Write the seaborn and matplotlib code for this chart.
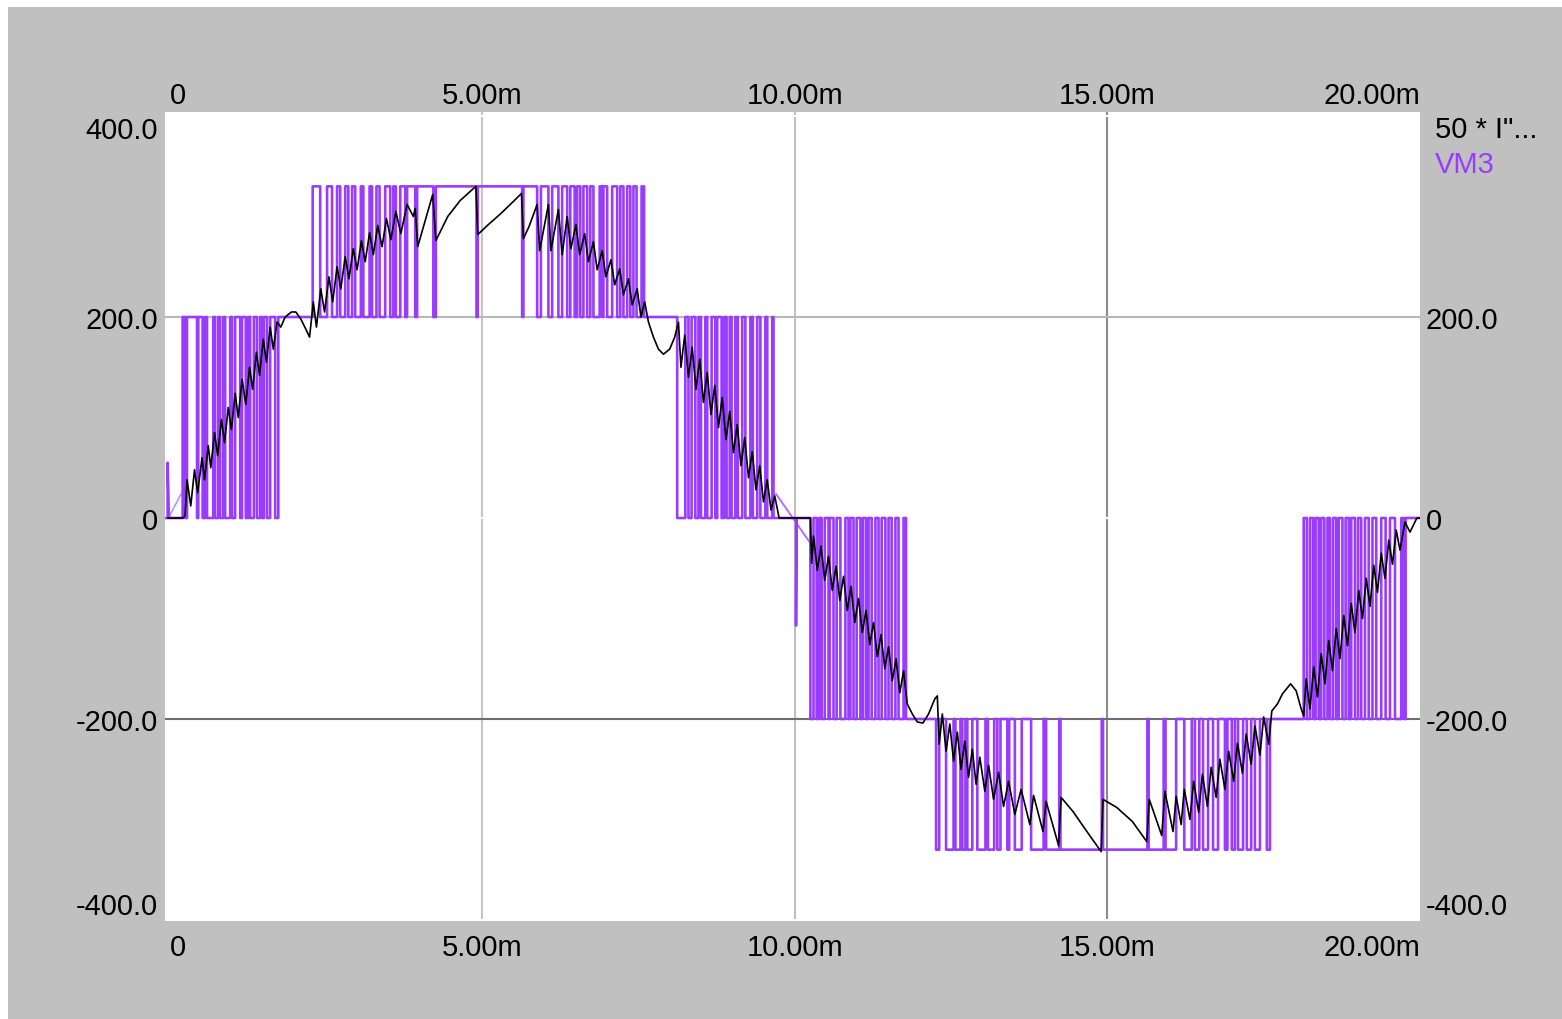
import matplotlib
matplotlib.use('Agg')
import matplotlib.pyplot as plt
import seaborn as sns
from matplotlib.patches import Rectangle

# axis texts (time in ms)
x_ticks = [0, 5, 10, 15, 20]
x_labels = ['0', '5.00m', '10.00m', '15.00m', '20.00m']
y_ticks = [-400, -200, 0, 200, 400]
y_labels = ['-400.0', '-200.0', '0', '200.0', '400.0']

# VM3 levels
lv0, lv1, lv2 = 0, 200, 330

# VM3 start glitch
vm3_head_t = [-0.07, -0.03, -0.03, -0.01]
vm3_head_v = [0, 0, 55, 0]

# switching instants (ms) of each PWM band
seg_a = [0.21, 0.25, 0.28, 0.44, 0.46, 0.53, 0.57, 0.60, 0.70, 0.73, 0.78, 0.81, 0.86, 0.89,
         0.97, 1.00, 1.05, 1.13, 1.16, 1.22, 1.26, 1.29, 1.35, 1.40, 1.45, 1.48, 1.51, 1.56,
         1.61, 1.69, 1.74]
seg_b1 = [2.29, 2.41, 2.52, 2.60, 2.68, 2.73, 2.81, 2.86, 2.92, 2.97, 3.06, 3.10, 3.20, 3.24,
          3.31, 3.36, 3.45, 3.53, 3.58, 3.62, 3.69, 3.77, 3.80, 3.93, 3.96, 4.22, 4.26]
dips_pos = [4.91, 4.93, 5.64, 5.66]
seg_b2 = [5.88, 5.94, 6.06, 6.12, 6.22, 6.28, 6.36, 6.41, 6.48, 6.52, 6.57, 6.62, 6.68, 6.73,
          6.78, 6.88, 6.92, 6.94, 7.00, 7.08, 7.16, 7.21, 7.26, 7.32, 7.37, 7.42, 7.47, 7.55, 7.59]
seg_c = [8.12, 8.25, 8.30, 8.35, 8.41, 8.46, 8.50, 8.57, 8.60, 8.67, 8.73, 8.76, 8.83, 8.87,
         8.91, 8.96, 8.99, 9.05, 9.09, 9.16, 9.21, 9.29, 9.33, 9.40, 9.45, 9.53, 9.56, 9.64, 9.66]
spike_t = [10.02, 10.02, 10.03]
spike_v = [0, -107, 0]
seg_d = [10.25, 10.30, 10.35, 10.39, 10.43, 10.48, 10.54, 10.56, 10.62, 10.67, 10.73, 10.81,
         10.86, 10.89, 10.94, 10.99, 11.05, 11.09, 11.14, 11.18, 11.23, 11.29, 11.34, 11.39,
         11.45, 11.50, 11.55, 11.61, 11.66, 11.74, 11.78]
seg_e1 = [12.26, 12.31, 12.42, 12.54, 12.57, 12.65, 12.68, 12.73, 12.76, 12.84, 12.92, 13.05,
          13.09, 13.19, 13.24, 13.29, 13.40, 13.43, 13.52, 13.63, 13.78, 13.98, 14.02, 14.23, 14.25]
dips_neg = [14.91, 14.93, 15.64, 15.66]
seg_e2 = [15.90, 15.93, 16.10, 16.23, 16.35, 16.40, 16.47, 16.53, 16.61, 16.69, 16.77, 16.88,
          16.92, 16.99, 17.04, 17.09, 17.17, 17.23, 17.30, 17.36, 17.44, 17.55, 17.60]
seg_f = [18.14, 18.19, 18.24, 18.29, 18.33, 18.38, 18.42, 18.47, 18.52, 18.56, 18.61, 18.66,
         18.70, 18.76, 18.81, 18.86, 18.90, 18.96, 19.01, 19.06, 19.12, 19.18, 19.24, 19.30,
         19.38, 19.45, 19.52, 19.60, 19.70, 19.74, 19.77]
vm3_end_t = [20.0]
vm3_end_v = [0]

# sloped VM3 pieces
slope1_t = [0.0, 0.22]
slope1_v = [2, 28]
slope2_t = [9.70, 10.26]
slope2_v = [24, -26]

# 50 * I (current trace)
cur_t = [-0.03, 0.22, 0.25, 0.28, 0.34, 0.40, 0.45, 0.52, 0.56, 0.62, 0.66, 0.72, 0.77, 0.83,
         0.88, 0.94, 0.99, 1.05, 1.10, 1.16, 1.22, 1.28, 1.33, 1.39, 1.44, 1.50, 1.55, 1.61,
         1.66, 1.72, 1.78, 1.85, 1.95, 2.02, 2.10, 2.18, 2.24, 2.30, 2.35, 2.42, 2.48, 2.55,
         2.61, 2.68, 2.74, 2.81, 2.87, 2.94, 3.00, 3.07, 3.13, 3.20, 3.26, 3.33, 3.40, 3.47,
         3.54, 3.62, 3.70, 3.80, 3.90, 3.93, 3.97, 4.21, 4.26, 4.45, 4.65, 4.90, 4.93, 5.10,
         5.30, 5.50, 5.63, 5.66, 5.75, 5.88, 5.92, 6.06, 6.10, 6.22, 6.28, 6.36, 6.42, 6.50,
         6.56, 6.64, 6.70, 6.78, 6.84, 6.92, 6.98, 7.06, 7.12, 7.20, 7.26, 7.34, 7.40, 7.48,
         7.54, 7.60, 7.66, 7.74, 7.82, 7.90, 8.00, 8.08, 8.14, 8.18, 8.24, 8.30, 8.36, 8.42,
         8.48, 8.54, 8.60, 8.66, 8.72, 8.78, 8.84, 8.90, 8.96, 9.02, 9.08, 9.14, 9.20, 9.26,
         9.32, 9.38, 9.44, 9.50, 9.56, 9.62, 9.68, 9.75, 10.25,
         10.27, 10.30, 10.36, 10.42, 10.48, 10.54, 10.60, 10.66, 10.72, 10.78, 10.84, 10.90,
         10.96, 11.02, 11.08, 11.14, 11.20, 11.26, 11.32, 11.38, 11.44, 11.50, 11.56, 11.62,
         11.68, 11.74, 11.80, 11.88, 11.96, 12.05, 12.14, 12.24, 12.28, 12.31, 12.36, 12.42,
         12.48, 12.54, 12.60, 12.66, 12.72, 12.78, 12.84, 12.90, 12.96, 13.04, 13.10, 13.18,
         13.26, 13.34, 13.42, 13.52, 13.62, 13.76, 13.82, 13.97, 14.02, 14.22, 14.26, 14.45,
         14.65, 14.90, 14.93, 15.15, 15.40, 15.63, 15.67, 15.87, 15.92, 16.05, 16.10, 16.18,
         16.23, 16.32, 16.38, 16.46, 16.52, 16.60, 16.66, 16.74, 16.80, 16.88, 16.94, 17.02,
         17.08, 17.16, 17.22, 17.30, 17.36, 17.44, 17.50, 17.58, 17.63, 17.72, 17.80, 17.93,
         18.02, 18.10, 18.14, 18.18, 18.24, 18.30, 18.36, 18.42, 18.48, 18.54, 18.60, 18.66,
         18.72, 18.78, 18.84, 18.90, 18.96, 19.02, 19.08, 19.14, 19.20, 19.26, 19.32, 19.38,
         19.44, 19.50, 19.56, 19.62, 19.68, 19.76, 19.84, 19.95, 20.0]
cur_v = [0, 0, 3, 38, 12, 48, 25, 60, 38, 72, 50, 85, 62, 98,
         75, 110, 88, 124, 100, 138, 113, 150, 128, 165, 142, 178, 155, 190,
         168, 195, 190, 200, 205, 205, 198, 188, 180, 215, 190, 228, 205, 240,
         215, 250, 228, 260, 238, 268, 247, 276, 255, 284, 262, 291, 270, 298,
         277, 305, 283, 312, 300, 308, 270, 322, 276, 300, 316, 330, 282, 292,
         303, 315, 323, 278, 290, 312, 266, 312, 266, 307, 262, 300, 268, 292,
         262, 283, 255, 275, 247, 266, 240, 257, 232, 248, 222, 238, 212, 228,
         200, 215, 195, 180, 168, 163, 168, 180, 195, 150, 182, 140, 170, 128,
         158, 115, 145, 103, 132, 90, 120, 78, 106, 65, 93, 52, 80, 40,
         66, 28, 52, 16, 38, 8, 22, 0, 0,
         -45, -18, -52, -28, -62, -38, -72, -48, -82, -58, -92, -68,
         -104, -80, -114, -92, -126, -104, -138, -116, -150, -128, -162, -140,
         -174, -152, -185, -195, -203, -204, -195, -180, -177, -225, -195, -232,
         -205, -242, -213, -250, -222, -258, -230, -265, -238, -272, -246, -280,
         -253, -287, -262, -295, -270, -305, -276, -312, -282, -326, -278, -292,
         -310, -332, -280, -288, -302, -322, -280, -316, -272, -312, -277, -305,
         -270, -300, -262, -293, -255, -287, -248, -278, -240, -270, -232, -262,
         -224, -254, -215, -245, -207, -236, -198, -225, -192, -185, -175, -165,
         -172, -190, -197, -160, -190, -148, -178, -135, -165, -122, -152, -110,
         -140, -97, -127, -85, -114, -72, -100, -60, -88, -47, -74, -35,
         -60, -22, -46, -12, -32, -4, -14, 0, 0]


def add_band(ts, vs, edges, start, other):
    cur = start
    for e in edges:
        nxt = other if cur == start else start
        ts += [e, e]
        vs += [cur, nxt]
        cur = nxt


vm3_t = list(vm3_head_t)
vm3_v = list(vm3_head_v)
add_band(vm3_t, vm3_v, seg_a, lv0, lv1)
add_band(vm3_t, vm3_v, seg_b1, lv1, lv2)
add_band(vm3_t, vm3_v, dips_pos, lv2, lv1)
add_band(vm3_t, vm3_v, seg_b2, lv2, lv1)
add_band(vm3_t, vm3_v, seg_c, lv1, lv0)
vm3_t += spike_t
vm3_v += spike_v
add_band(vm3_t, vm3_v, seg_d, lv0, -lv1)
add_band(vm3_t, vm3_v, seg_e1, -lv1, -lv2)
add_band(vm3_t, vm3_v, dips_neg, -lv2, -lv1)
add_band(vm3_t, vm3_v, seg_e2, -lv2, -lv1)
add_band(vm3_t, vm3_v, seg_f, -lv1, lv0)
vm3_t += vm3_end_t
vm3_v += vm3_end_v

sns.set_style('white')
plt.rcParams['font.family'] = ['Liberation Sans', 'DejaVu Sans']

purple = '#9a3cff'
fs = 21

fig = plt.figure(figsize=(15.62, 10.2), dpi=100)
fig.patch.set_facecolor('white')
fig.add_artist(Rectangle((8 / 1562, 0), 1, 1 - 8 / 1020, transform=fig.transFigure,
                         facecolor='#c0c0c0', edgecolor='none', zorder=-10))

ax = fig.add_axes([165 / 1562, 1 - 922 / 1020, 1255 / 1562, 809 / 1020])
ax.set_facecolor('white')

sns.lineplot(x=slope1_t, y=slope1_v, ax=ax, color='#c090ff', linewidth=1.2,
             estimator=None, sort=False, zorder=2)
sns.lineplot(x=slope2_t, y=slope2_v, ax=ax, color='#b070ff', linewidth=1.4,
             estimator=None, sort=False, zorder=2)
sns.lineplot(x=vm3_t, y=vm3_v, ax=ax, color=purple, linewidth=1.9,
             estimator=None, sort=False, zorder=3)
sns.lineplot(x=cur_t, y=cur_v, ax=ax, color='black', linewidth=1.2,
             estimator=None, sort=False, zorder=4)

ax.set_xlim(-0.072, 20.0)
ax.set_ylim(-401, 404)
ax.set_xlabel('')
ax.set_ylabel('')
for s in ax.spines.values():
    s.set_visible(False)

ax.set_xticks(x_ticks, x_labels)
ax.set_yticks(y_ticks, y_labels)
ax.tick_params(axis='x', length=0, pad=9, labelsize=fs, labelcolor='black')
ax.tick_params(axis='y', length=0, pad=5, labelsize=fs, labelcolor='black')
ax.grid(True, linewidth=1.5, color='#c4c4c4')
ax.set_axisbelow(True)

xgrid_colors = ['white', '#c4c4c4', '#c0c0c0', '#8c8c8c', 'white']
for tk, c in zip(ax.xaxis.get_major_ticks(), xgrid_colors):
    tk.gridline.set_color(c)
ygrid_colors = ['white', '#6e6e6e', 'white', '#b8b8b8', 'white']
for tk, c in zip(ax.yaxis.get_major_ticks(), ygrid_colors):
    tk.gridline.set_color(c)

xt = ax.xaxis.get_major_ticks()
xt[0].label1.set_horizontalalignment('left')
xt[-1].label1.set_horizontalalignment('right')
yt = ax.yaxis.get_major_ticks()
yt[0].label1.set_verticalalignment('bottom')
yt[-1].label1.set_verticalalignment('top')

# top and right duplicate scales
top = ax.secondary_xaxis('top')
top.set_xticks(x_ticks, x_labels)
top.tick_params(length=0, pad=2, labelsize=fs, labelcolor='black')
for s in top.spines.values():
    s.set_visible(False)
tt = top.xaxis.get_major_ticks()
tt[0].label2.set_horizontalalignment('left')
tt[-1].label2.set_horizontalalignment('right')

right = ax.secondary_yaxis('right')
right.set_yticks(y_ticks[:-1], y_labels[:-1])
right.tick_params(length=0, pad=4, labelsize=fs, labelcolor='black')
for s in right.spines.values():
    s.set_visible(False)
rt = right.yaxis.get_major_ticks()
rt[0].label2.set_verticalalignment('bottom')

ax.text(1.012, 0.979, '50 * I"...', transform=ax.transAxes, fontsize=fs,
        color='black', ha='left', va='center')
ax.text(1.012, 0.936, 'VM3', transform=ax.transAxes, fontsize=fs,
        color=purple, ha='left', va='center')

fig.savefig('out.png', dpi=100)
